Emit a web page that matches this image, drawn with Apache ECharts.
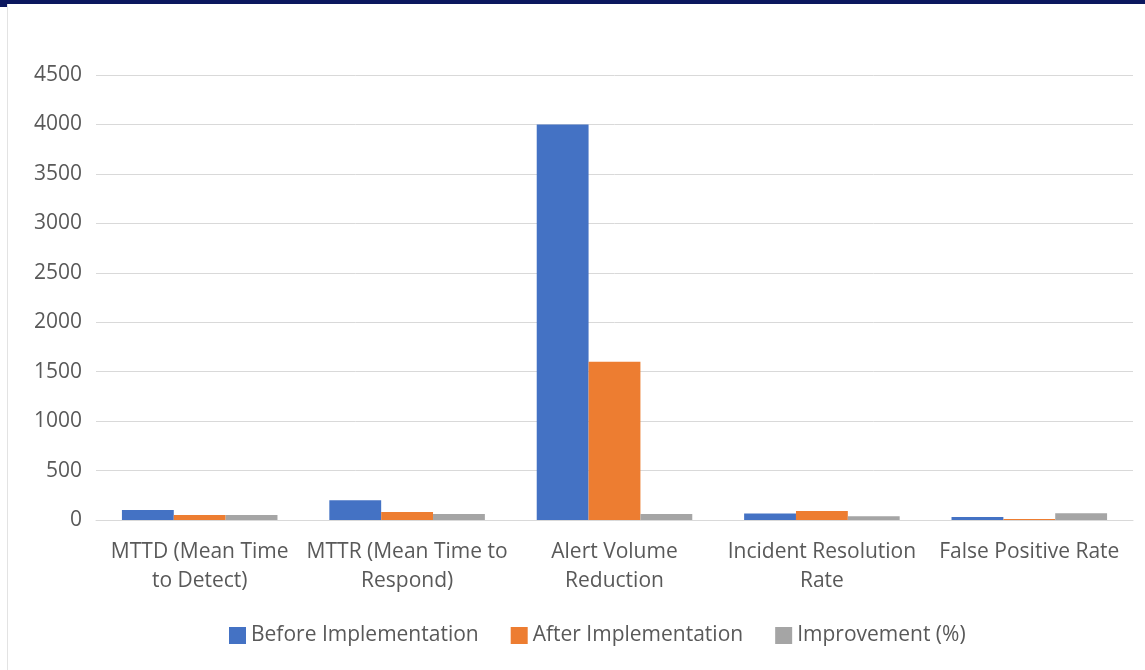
<!DOCTYPE html>
<html>
<head>
<meta charset="utf-8">
<title>Security Operations Metrics</title>
<script src="https://cdn.jsdelivr.net/npm/echarts@6/dist/echarts.min.js"></script>
<style>
  html, body { margin: 0; padding: 0; background: #ffffff; }
  #frame {
    position: relative;
    width: 1145px;
    height: 670px;
    overflow: hidden;
    background: #ffffff;
  }
  #topbar {
    position: absolute;
    left: 0; top: 0; right: 0;
    height: 4px;
    background: #0b175e;
  }
  #corner {
    position: absolute;
    left: 0; top: 0;
    width: 7px; height: 7px;
    background: #0b175e;
  }
  #edge {
    position: absolute;
    left: 7px; top: 4px; bottom: 0;
    width: 1px;
    background: #e3e3e3;
  }
  #chart { position: absolute; left: 0; top: 0; width: 1145px; height: 670px; }
</style>
</head>
<body>
<div id="frame">
  <div id="chart"></div>
  <div id="topbar"></div>
  <div id="corner"></div>
  <div id="edge"></div>
</div>
<script>
// Metric names and their wrapped axis labels
const categories = [
  'MTTD (Mean Time to Detect)',
  'MTTR (Mean Time to Respond)',
  'Alert Volume Reduction',
  'Incident Resolution Rate',
  'False Positive Rate'
];
const categoryLabels = [
  'MTTD (Mean Time\nto Detect)',
  'MTTR (Mean Time to\nRespond)',
  'Alert Volume\nReduction',
  'Incident Resolution\nRate',
  'False Positive Rate'
];

// Series values
const beforeImplementation = [100, 200, 4000, 65, 30];
const afterImplementation = [50, 80, 1600, 90, 10];
const improvementPct = [50, 60, 60, 38, 67];

// Value axis ticks
const valueTicks = [0, 500, 1000, 1500, 2000, 2500, 3000, 3500, 4000, 4500];

const FONT = '"Open Sans", "Noto Sans", sans-serif';
const TEXT = '#595959';
const GRID = '#d9d9d9';
const FS = 21;

const chart = echarts.init(document.getElementById('chart'), null, { renderer: 'canvas' });

chart.setOption({
  animation: false,
  backgroundColor: 'transparent',
  textStyle: { fontFamily: FONT },
  grid: { left: 96, right: 12, top: 75, bottom: 150, containLabel: false },
  legend: {
    left: 229,
    top: 625,
    padding: 0,
    itemWidth: 17,
    itemHeight: 17,
    itemGap: 32,
    icon: 'rect',
    textStyle: { color: TEXT, fontSize: FS, fontFamily: FONT },
    data: ['Before Implementation', 'After Implementation', 'Improvement (%)']
  },
  xAxis: {
    type: 'category',
    data: categories,
    axisLine: { lineStyle: { color: GRID, width: 1 } },
    axisTick: { show: false },
    axisLabel: {
      color: TEXT,
      fontSize: FS,
      fontFamily: FONT,
      lineHeight: 29,
      margin: 18,
      interval: 0,
      formatter: (v, i) => categoryLabels[i]
    }
  },
  yAxis: {
    type: 'value',
    min: valueTicks[0],
    max: valueTicks[valueTicks.length - 1],
    interval: valueTicks[1] - valueTicks[0],
    axisLine: { show: false },
    axisTick: { show: false },
    splitLine: { lineStyle: { color: GRID, width: 1 } },
    axisLabel: {
      color: TEXT,
      fontSize: FS,
      fontFamily: FONT,
      margin: 14,
      formatter: (v) => String(v)
    }
  },
  series: [
    {
      name: 'Before Implementation',
      type: 'bar',
      data: beforeImplementation,
      itemStyle: { color: '#4472c4' },
      barGap: '0%',
      barCategoryGap: '25%'
    },
    {
      name: 'After Implementation',
      type: 'bar',
      data: afterImplementation,
      itemStyle: { color: '#ed7d31' }
    },
    {
      name: 'Improvement (%)',
      type: 'bar',
      data: improvementPct,
      itemStyle: { color: '#a5a5a5' }
    }
  ]
});
</script>
</body>
</html>
